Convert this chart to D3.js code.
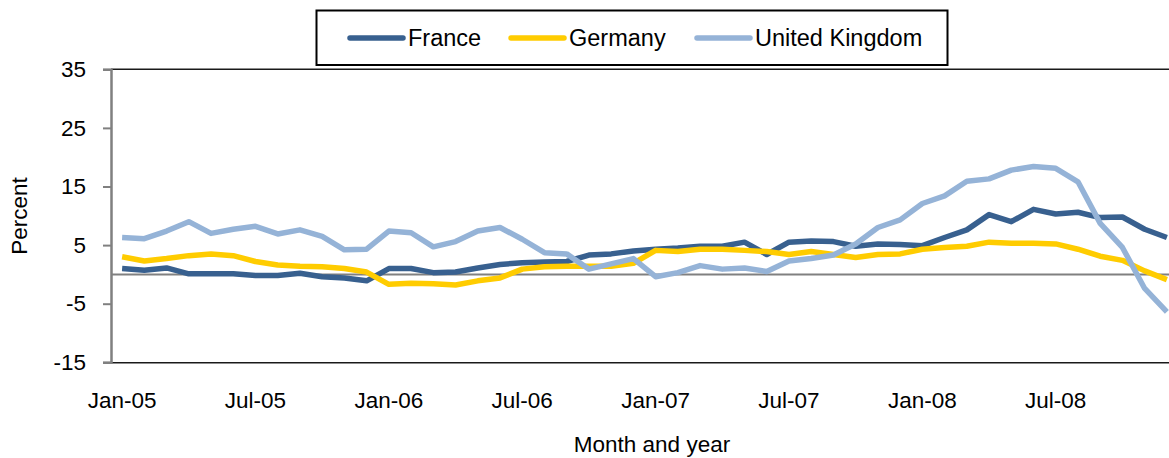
<!DOCTYPE html>
<html>
<head>
<meta charset="utf-8">
<script src="https://cdn.jsdelivr.net/npm/d3@7"></script>
<style>
  html, body { margin: 0; padding: 0; background: #fff; }
  svg { display: block; }
  text { font-family: "Liberation Sans", Arial, sans-serif; fill: #000; }
</style>
</head>
<body>
<svg id="chart" width="1169" height="458"></svg>
<script>
const months = [
  "Jan-05","Feb-05","Mar-05","Apr-05","May-05","Jun-05","Jul-05","Aug-05","Sep-05","Oct-05","Nov-05","Dec-05",
  "Jan-06","Feb-06","Mar-06","Apr-06","May-06","Jun-06","Jul-06","Aug-06","Sep-06","Oct-06","Nov-06","Dec-06",
  "Jan-07","Feb-07","Mar-07","Apr-07","May-07","Jun-07","Jul-07","Aug-07","Sep-07","Oct-07","Nov-07","Dec-07",
  "Jan-08","Feb-08","Mar-08","Apr-08","May-08","Jun-08","Jul-08","Aug-08","Sep-08","Oct-08","Nov-08","Dec-08"
];
const france = [1.0,0.7,1.1,0.1,0.1,0.1,-0.2,-0.2,0.2,-0.4,-0.6,-1.1,1.0,1.0,0.3,0.4,1.1,1.7,2.0,2.1,2.2,3.3,3.5,4.0,4.3,4.5,4.8,4.8,5.5,3.4,5.5,5.7,5.6,4.8,5.2,5.1,4.9,6.3,7.6,10.2,9.0,11.1,10.3,10.6,9.7,9.8,7.7,6.3];
const germany = [3.0,2.3,2.7,3.2,3.5,3.2,2.2,1.6,1.4,1.3,1.0,0.4,-1.7,-1.5,-1.6,-1.8,-1.1,-0.6,0.9,1.3,1.4,1.4,1.4,1.9,4.1,3.9,4.3,4.3,4.1,3.9,3.4,3.9,3.4,2.9,3.4,3.5,4.3,4.6,4.8,5.5,5.3,5.3,5.2,4.3,3.1,2.4,0.6,-0.9];
const uk = [6.3,6.1,7.4,9.0,7.0,7.7,8.2,6.9,7.6,6.5,4.2,4.3,7.4,7.1,4.7,5.6,7.4,8.0,6.0,3.7,3.5,0.9,1.8,2.7,-0.4,0.3,1.5,0.9,1.1,0.5,2.3,2.7,3.3,5.2,8.0,9.3,12.1,13.4,15.9,16.3,17.8,18.4,18.1,15.8,8.7,4.6,-2.4,-6.4];
const seriesNames = ["France","Germany","United Kingdom"];
const seriesColors = ["#38608f","#ffcc00","#95b3d7"];
const yTicks = [-15,-5,5,15,25,35];
const xTickLabels = ["Jan-05","Jul-05","Jan-06","Jul-06","Jan-07","Jul-07","Jan-08","Jul-08"];

const series = [france, germany, uk];
const svg = d3.select("#chart");
const FONT = 22.5;

const plot = {left: 111, right: 1178, top: 69.3, bottom: 362.3};

const x = d3.scaleBand().domain(months).range([plot.left, plot.right]).padding(0);
const xc = m => x(m) + x.bandwidth() / 2;
const y = d3.scaleLinear().domain([-15, 35]).range([plot.bottom, plot.top]);

// top border
svg.append("line")
  .attr("x1", plot.left).attr("x2", plot.right)
  .attr("y1", plot.top).attr("y2", plot.top)
  .attr("stroke", "#1a1a1a").attr("stroke-width", 1.5);

// zero line
svg.append("line")
  .attr("x1", plot.left).attr("x2", plot.right)
  .attr("y1", y(0)).attr("y2", y(0))
  .attr("stroke", "#808080").attr("stroke-width", 2);

// lines
const line = d3.line().x((d, i) => xc(months[i])).y(d => y(d));
series.forEach((s, k) => {
  svg.append("path")
    .datum(s)
    .attr("d", line)
    .attr("fill", "none")
    .attr("stroke", seriesColors[k])
    .attr("stroke-width", 5.5)
    .attr("stroke-linejoin", "round")
    .attr("stroke-linecap", "butt");
});

// bottom axis
const xAxis = d3.axisBottom(x).tickValues(xTickLabels).tickSize(0).tickPadding(30);
const gx = svg.append("g").attr("transform", `translate(0,${plot.bottom})`).call(xAxis);
gx.select(".domain").attr("stroke", "#1a1a1a").attr("stroke-width", 1.5);
gx.selectAll("text").attr("font-size", FONT).attr("font-family", "Liberation Sans, Arial, sans-serif").attr("fill", "#000");

// left axis
const yAxis = d3.axisLeft(y).tickValues(yTicks).tickSize(8).tickPadding(17).tickFormat(d => String(d));
const gy = svg.append("g").attr("transform", `translate(${plot.left},0)`).call(yAxis);
gy.select(".domain").attr("stroke", "#808080").attr("stroke-width", 2.5);
gy.selectAll(".tick line").attr("stroke", "#808080").attr("stroke-width", 2);
gy.selectAll("text").attr("font-size", FONT).attr("font-family", "Liberation Sans, Arial, sans-serif").attr("fill", "#000");

// axis titles
svg.append("text")
  .attr("x", 652).attr("y", 452)
  .attr("text-anchor", "middle").attr("font-size", FONT)
  .text("Month and year");
svg.append("text")
  .attr("transform", "translate(27,216) rotate(-90)")
  .attr("text-anchor", "middle").attr("font-size", FONT)
  .text("Percent");

// legend
const lg = svg.append("g");
lg.append("rect")
  .attr("x", 316.5).attr("y", 10.5).attr("width", 631).attr("height", 54.5)
  .attr("fill", "#fff").attr("stroke", "#000").attr("stroke-width", 2);
const legendX = [350, 511, 697];
seriesNames.forEach((n, k) => {
  const g = lg.append("g").attr("transform", `translate(${legendX[k]},38)`);
  g.append("line").attr("x1", 0).attr("x2", 53).attr("y1", 0).attr("y2", 0)
    .attr("stroke", seriesColors[k]).attr("stroke-width", 5.5).attr("stroke-linecap", "round");
  g.append("text").attr("x", 58).attr("y", 8).attr("font-size", 23.5).text(n);
});
</script>
</body>
</html>
